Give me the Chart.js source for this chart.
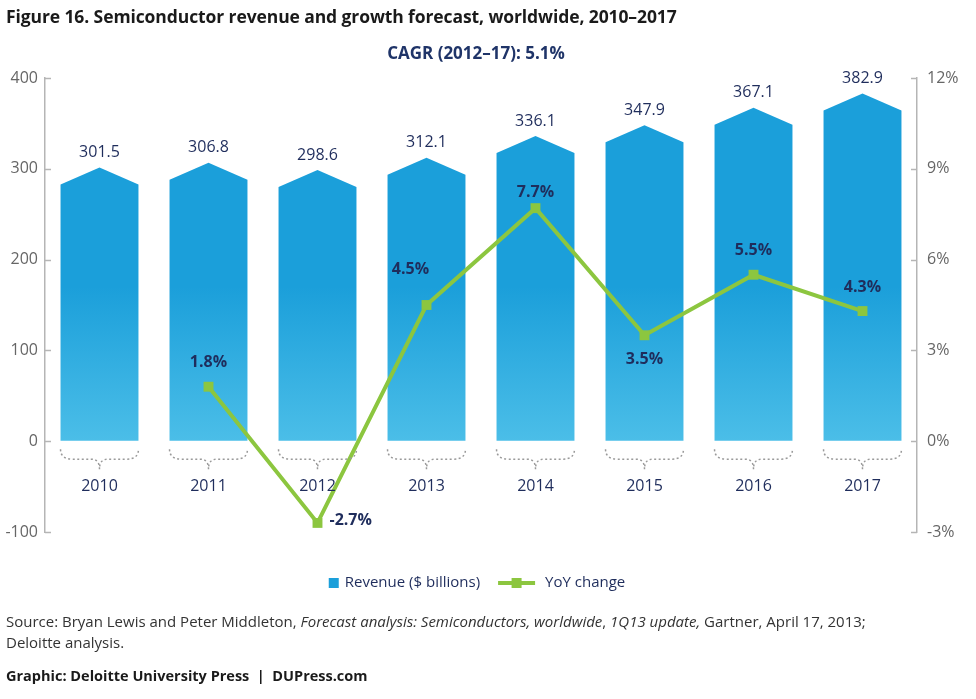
<!DOCTYPE html>
<html>
<head>
<meta charset="utf-8">
<script src="https://cdn.jsdelivr.net/npm/chart.js@4.4.0/dist/chart.umd.min.js"></script>
<style>
html, body { margin: 0; padding: 0; background: #fff; }
#wrap { position: relative; width: 976px; height: 699px; overflow: hidden; font-family: "Open Sans", sans-serif; }
#chart { position: absolute; left: 0; top: 0; }
.txt { position: absolute; white-space: nowrap; }
#title { left: 6px; top: 4px; font-size: 17.5px; font-weight: bold; color: #1a1a1a; letter-spacing: -0.1px; }
#sub { left: 0; width: 952px; text-align: center; top: 41px; font-size: 17px; font-weight: bold; color: #1f3468; }
#src { left: 6px; top: 611px; font-size: 15px; line-height: 21px; color: #333; }
#graphic { left: 6px; top: 666px; font-size: 14.5px; font-weight: bold; color: #1a1a1a; }
</style>
</head>
<body>
<div id="wrap">
  <canvas id="chart" width="976" height="699"></canvas>
  <div class="txt" id="title">Figure 16. Semiconductor revenue and growth forecast, worldwide, 2010–2017</div>
  <div class="txt" id="sub">CAGR (2012–17): 5.1%</div>
  <div class="txt" id="src">Source: Bryan Lewis and Peter Middleton, <i>Forecast analysis: Semiconductors, worldwide</i>, <i>1Q13 update,</i> Gartner, April 17, 2013;<br>Deloitte analysis.</div>
  <div class="txt" id="graphic">Graphic: Deloitte University Press &nbsp;|&nbsp; DUPress.com</div>
</div>
<script>
// data
const years = ['2010', '2011', '2012', '2013', '2014', '2015', '2016', '2017'];
const revenue = [301.5, 306.8, 298.6, 312.1, 336.1, 347.9, 367.1, 382.9];
const yoyChange = [null, 1.8, -2.7, 4.5, 7.7, 3.5, 5.5, 4.3];
// where each growth label sits relative to its point
const yoyLabelPos = [null, 'above', 'right', 'aboveLeft', 'aboveTight', 'below', 'above', 'above'];

const navy = '#1f2d5c';
const green = '#8cc63f';
const barTop = '#1b9fda';
const barBottom = '#4bbee8';
const font = '"Open Sans", sans-serif';

// pentagon bars, drawn under the line
const houseBars = {
  id: 'houseBars',
  beforeDatasetsDraw(chart) {
    const ctx = chart.ctx;
    const y = chart.scales.y;
    const grad = ctx.createLinearGradient(0, y.getPixelForValue(170), 0, y.getPixelForValue(0));
    grad.addColorStop(0, barTop);
    grad.addColorStop(1, barBottom);
    ctx.save();
    chart.getDatasetMeta(0).data.forEach(bar => {
      const p = bar.getProps(['x', 'y', 'base', 'width'], true);
      const h = p.width / 2;
      ctx.beginPath();
      ctx.moveTo(p.x - h, p.base);
      ctx.lineTo(p.x - h, p.y + 17);
      ctx.lineTo(p.x, p.y);
      ctx.lineTo(p.x + h, p.y + 17);
      ctx.lineTo(p.x + h, p.base);
      ctx.closePath();
      ctx.fillStyle = grad;
      ctx.fill();
    });
    ctx.restore();
  }
};

// labels, braces, inward ticks, legend
const extras = {
  id: 'extras',
  afterDatasetsDraw(chart) {
    const ctx = chart.ctx;
    const {y, y1} = chart.scales;
    const area = chart.chartArea;
    const zero = y.getPixelForValue(0);
    ctx.save();

    // bar values
    ctx.font = '16px ' + font;
    ctx.fillStyle = navy;
    ctx.textAlign = 'center';
    ctx.textBaseline = 'middle';
    chart.getDatasetMeta(0).data.forEach((bar, i) => {
      ctx.fillText(revenue[i].toFixed(1), bar.x, bar.y - 15);
    });

    // braces and year labels
    chart.getDatasetMeta(0).data.forEach((bar, i) => {
      const l = bar.x - bar.width / 2, r = bar.x + bar.width / 2, c = bar.x;
      const t = zero + 8, m = zero + 18, b = zero + 28;
      ctx.beginPath();
      ctx.moveTo(l, t);
      ctx.quadraticCurveTo(l, m, l + 12, m);
      ctx.lineTo(c - 8, m);
      ctx.quadraticCurveTo(c, m, c, b);
      ctx.quadraticCurveTo(c, m, c + 8, m);
      ctx.lineTo(r - 12, m);
      ctx.quadraticCurveTo(r, m, r, t);
      ctx.setLineDash([2, 2.5]);
      ctx.lineWidth = 1.5;
      ctx.strokeStyle = '#9a9a9a';
      ctx.stroke();
      ctx.setLineDash([]);
      ctx.font = '16px ' + font;
      ctx.fillStyle = navy;
      ctx.fillText(years[i], c, zero + 45);
    });

    // growth labels
    ctx.font = 'bold 16px ' + font;
    chart.getDatasetMeta(1).data.forEach((pt, i) => {
      if (yoyChange[i] === null) return;
      const txt = yoyChange[i].toFixed(1) + '%';
      const pos = yoyLabelPos[i];
      ctx.textAlign = 'center';
      if (pos === 'above') ctx.fillText(txt, pt.x, pt.y - 24);
      else if (pos === 'aboveTight') ctx.fillText(txt, pt.x, pt.y - 16);
      else if (pos === 'aboveLeft') ctx.fillText(txt, pt.x - 16, pt.y - 36);
      else if (pos === 'below') ctx.fillText(txt, pt.x, pt.y + 24);
      else if (pos === 'right') { ctx.textAlign = 'left'; ctx.fillText(txt, pt.x + 12, pt.y - 2); }
    });

    // inward tick marks
    ctx.strokeStyle = '#b5b5b5';
    ctx.lineWidth = 1.5;
    y.ticks.forEach(tk => {
      const py = Math.round(y.getPixelForValue(tk.value)) + 0.5;
      ctx.beginPath(); ctx.moveTo(area.left, py); ctx.lineTo(area.left + 6, py); ctx.stroke();
    });
    y1.ticks.forEach(tk => {
      const py = Math.round(y1.getPixelForValue(tk.value)) + 0.5;
      ctx.beginPath(); ctx.moveTo(area.right - 6, py); ctx.lineTo(area.right, py); ctx.stroke();
    });

    // legend
    ctx.font = '15px ' + font;
    ctx.textAlign = 'left';
    const t1 = 'Revenue ($ billions)', t2 = 'YoY change';
    const w1 = ctx.measureText(t1).width, w2 = ctx.measureText(t2).width;
    const total = 10 + 6 + w1 + 18 + 37 + 10 + w2;
    let lx = 477 - total / 2;
    const ly = 583;
    ctx.fillStyle = barTop;
    ctx.fillRect(lx, ly - 5, 10, 10);
    lx += 16;
    ctx.fillStyle = navy;
    ctx.fillText(t1, lx, ly);
    lx += w1 + 18;
    ctx.strokeStyle = green;
    ctx.lineWidth = 4;
    ctx.beginPath(); ctx.moveTo(lx, ly); ctx.lineTo(lx + 37, ly); ctx.stroke();
    ctx.fillStyle = green;
    ctx.fillRect(lx + 13.5, ly - 5, 10, 10);
    lx += 47;
    ctx.fillStyle = navy;
    ctx.fillText(t2, lx, ly);

    ctx.restore();
  }
};

new Chart(document.getElementById('chart'), {
  type: 'bar',
  data: {
    labels: years,
    datasets: [
      {
        label: 'Revenue ($ billions)',
        data: revenue,
        yAxisID: 'y',
        backgroundColor: 'rgba(0,0,0,0)',
        barPercentage: 0.715,
        categoryPercentage: 1
      },
      {
        type: 'line',
        label: 'YoY change',
        data: yoyChange,
        yAxisID: 'y1',
        borderColor: green,
        backgroundColor: green,
        borderWidth: 4,
        tension: 0,
        pointStyle: 'rect',
        pointRadius: 7,
        pointBorderWidth: 0
      }
    ]
  },
  options: {
    responsive: false,
    animation: false,
    layout: { padding: { top: 78, bottom: 167, left: 0, right: 0 } },
    plugins: {
      legend: { display: false },
      title: { display: false },
      tooltip: { enabled: false }
    },
    scales: {
      x: { display: false },
      y: {
        position: 'left',
        min: -100,
        max: 400,
        ticks: { stepSize: 100, padding: 7, color: '#666', font: { family: font, size: 16 } },
        grid: { drawOnChartArea: false, drawTicks: false },
        border: { color: '#b5b5b5', width: 1.5 },
        afterFit(s) { s.width = 45; }
      },
      y1: {
        position: 'right',
        min: -3,
        max: 12,
        ticks: { stepSize: 3, padding: 10, color: '#666', font: { family: font, size: 16 }, callback: v => v + '%' },
        grid: { drawOnChartArea: false, drawTicks: false },
        border: { color: '#b5b5b5', width: 1.5 },
        afterFit(s) { s.width = 59; }
      }
    }
  },
  plugins: [houseBars, extras]
});
</script>
</body>
</html>
